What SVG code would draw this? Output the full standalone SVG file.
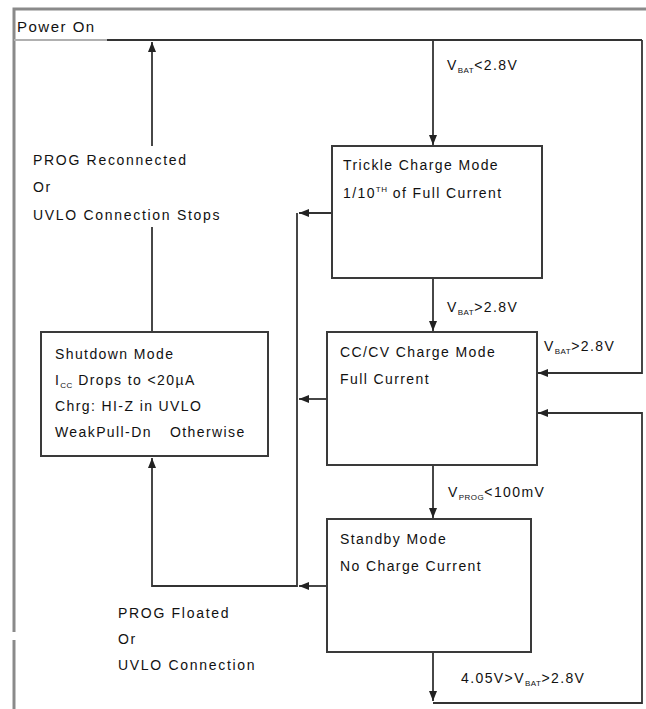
<svg xmlns="http://www.w3.org/2000/svg" width="646" height="709" viewBox="0 0 646 709">
<style>
  text { font-family: "Liberation Sans", Arial, sans-serif; font-size: 14px; fill: #111; letter-spacing: 1.4px; }
  .lbl { letter-spacing: 1.7px; }
  .box { fill: #fff; stroke: #3a3a3a; stroke-width: 2; }
  .wire { fill: none; stroke: #333; stroke-width: 1.8; }
  .frame { fill: none; stroke: #8a8a8a; stroke-width: 3; }
  .sub { font-size: 8px; letter-spacing: 0.5px; }
</style>
<defs>
  <marker id="arr" markerUnits="userSpaceOnUse" markerWidth="10" markerHeight="10" viewBox="0 0 10 10" refX="10" refY="5" orient="auto">
    <path d="M0 1 L10 5 L0 9 Z" fill="#222"/>
  </marker>
</defs>
<rect width="646" height="709" fill="#fff"/>
<g id="frame">
  <path class="frame" d="M646 9 H14 V632"/>
  <path class="frame" d="M14 640 V709"/>
  <line x1="14" y1="40" x2="107" y2="40" stroke="#b0b0b0" stroke-width="2"/>
</g>
<g id="power-on">
  <text x="17" y="32" style="font-size:15px;letter-spacing:1.5px">Power On</text>
</g>
<g id="connectors">
  <path class="wire" d="M107 40 H642"/>
  <path class="wire" d="M433 40 V145" marker-end="url(#arr)"/>
  <path class="wire" d="M642 40 V373 H538" marker-end="url(#arr)"/>
  <path class="wire" d="M433 279 V331" marker-end="url(#arr)"/>
  <path class="wire" d="M433 466 V518" marker-end="url(#arr)"/>
  <path class="wire" d="M433 653 V701" marker-end="url(#arr)"/>
  <path class="wire" d="M433 703 H642 V413 H538" marker-end="url(#arr)"/>
  <path class="wire" d="M332 213 H299" marker-end="url(#arr)"/>
  <path class="wire" d="M327 399 H299" marker-end="url(#arr)"/>
  <path class="wire" d="M327 586 H299" marker-end="url(#arr)"/>
  <path class="wire" d="M297 213 V586 H152 V458" marker-end="url(#arr)"/>
  <path class="wire" d="M152 332 V227"/>
  <path class="wire" d="M152 146 V42" marker-end="url(#arr)"/>
  <text x="447" y="70">V<tspan class="sub" dy="3">BAT</tspan><tspan dy="-3">&lt;2.8V</tspan></text>
  <text x="447" y="312">V<tspan class="sub" dy="3">BAT</tspan><tspan dy="-3">&gt;2.8V</tspan></text>
  <text x="544" y="351">V<tspan class="sub" dy="3">BAT</tspan><tspan dy="-3">&gt;2.8V</tspan></text>
  <text x="448" y="497">V<tspan class="sub" dy="3">PROG</tspan><tspan dy="-3">&lt;100mV</tspan></text>
  <text x="461" y="683">4.05V&gt;V<tspan class="sub" dy="3">BAT</tspan><tspan dy="-3">&gt;2.8V</tspan></text>
  <text class="lbl" x="33" y="165">PROG Reconnected</text>
  <text class="lbl" x="33" y="192">Or</text>
  <text class="lbl" x="33" y="220">UVLO Connection Stops</text>
  <text class="lbl" x="118" y="618">PROG Floated</text>
  <text class="lbl" x="118" y="644">Or</text>
  <text class="lbl" x="118" y="670">UVLO Connection</text>
</g>
<g id="trickle">
  <rect class="box" x="332" y="146" width="210" height="132"/>
  <text x="343" y="170">Trickle Charge Mode</text>
  <text x="343" y="198">1/10<tspan class="sub" dy="-6">TH</tspan><tspan dy="6"> of Full Current</tspan></text>
</g>
<g id="cccv">
  <rect class="box" x="327" y="332" width="210" height="133"/>
  <text x="340" y="357">CC/CV Charge Mode</text>
  <text x="340" y="384">Full Current</text>
</g>
<g id="standby">
  <rect class="box" x="327" y="519" width="204" height="133"/>
  <text x="340" y="544">Standby Mode</text>
  <text x="340" y="571">No Charge Current</text>
</g>
<g id="shutdown">
  <rect class="box" x="41" y="332" width="227" height="124"/>
  <text x="55" y="359">Shutdown Mode</text>
  <text x="55" y="385">I<tspan class="sub" dy="3">CC</tspan><tspan dy="-3"> Drops to &lt;20µA</tspan></text>
  <text x="55" y="411">Chrg: HI-Z in UVLO</text>
  <text x="55" y="437">WeakPull-Dn<tspan x="170">Otherwise</tspan></text>
</g>
</svg>
